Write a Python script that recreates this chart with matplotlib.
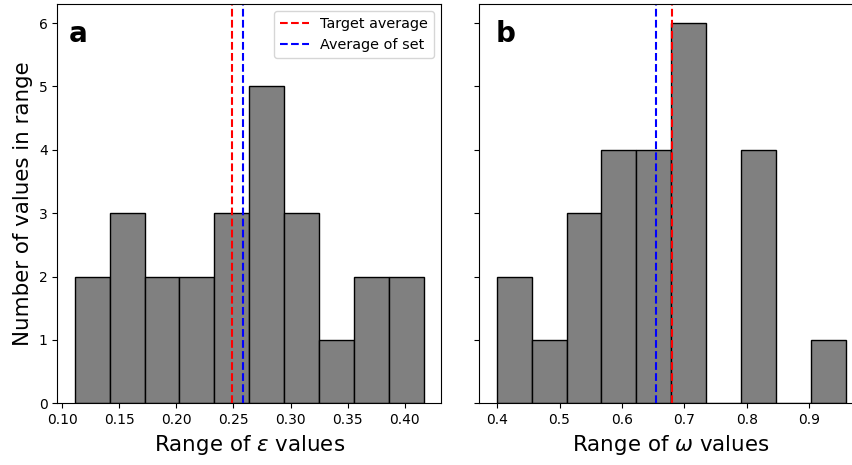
import numpy as np
import matplotlib
matplotlib.use("Agg")
import matplotlib.pyplot as plt

# Histogram data
eps_edges = [0.1111, 0.1416, 0.1722, 0.2027, 0.2332, 0.2638,
             0.2943, 0.3248, 0.3553, 0.3859, 0.4164]
eps_counts = [2, 3, 2, 2, 3, 5, 3, 1, 2, 2]

omega_edges = [0.3995, 0.4553, 0.5112, 0.5670, 0.6228, 0.6787,
               0.7345, 0.7904, 0.8462, 0.9020, 0.9579]
omega_counts = [2, 1, 3, 4, 4, 6, 0, 4, 0, 1]

# target / average lines
eps_target, eps_mean = 0.249, 0.258
omega_target, omega_mean = 0.680, 0.655

fig = plt.figure(figsize=(8.53, 4.65), dpi=100)
ax1 = fig.add_axes([0.0672, 0.1327, 0.4498, 0.8587])
ax2 = fig.add_axes([0.5619, 0.1327, 0.4498, 0.8587], sharey=ax1)

# --- left panel ---
ax1.hist(eps_edges[:-1], bins=eps_edges, weights=eps_counts,
         color='gray', edgecolor='black')
ax1.axvline(eps_target, color='red', linestyle='--', linewidth=1.5, label='Target average')
ax1.axvline(eps_mean, color='blue', linestyle='--', linewidth=1.5, label='Average of set')
ax1.set_xlabel(r"Range of $\epsilon$ values", fontsize=15.4)
ax1.set_ylabel("Number of values in range", fontsize=15.4)
ax1.legend(loc='upper right', fontsize=10.4)
ax1.text(0.03, 0.96, 'a', transform=ax1.transAxes, fontsize=20,
         fontweight='bold', va='top', ha='left')

# --- right panel ---
ax2.hist(omega_edges[:-1], bins=omega_edges, weights=omega_counts,
         color='gray', edgecolor='black')
ax2.axvline(omega_target, color='red', linestyle='--', linewidth=1.5)
ax2.axvline(omega_mean, color='blue', linestyle='--', linewidth=1.5)
ax2.set_xlabel(r"Range of $\omega$ values", fontsize=15.4)
ax2.tick_params(labelleft=False)
ax2.text(0.043, 0.96, 'b', transform=ax2.transAxes, fontsize=20,
         fontweight='bold', va='top', ha='left')

fig.savefig("out.png", dpi=100)
